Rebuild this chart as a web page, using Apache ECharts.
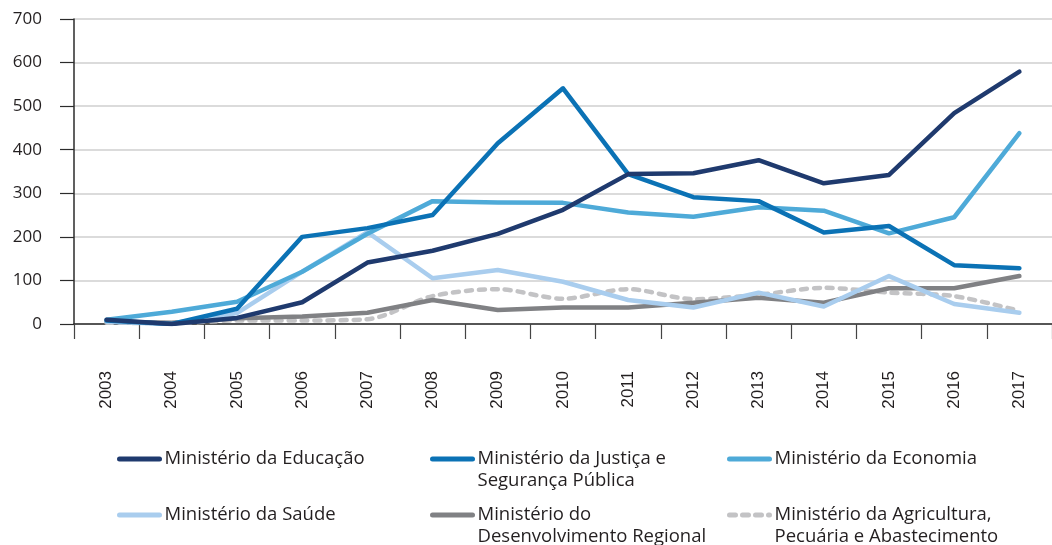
<!DOCTYPE html>
<html>
<head>
    <meta charset="utf-8">
    <title>Ministérios</title>
    <script src="https://cdn.jsdelivr.net/npm/echarts@6/dist/echarts.min.js"></script>
    <style>
        html, body { margin: 0; padding: 0; background: #fff; }
        #chart { width: 1052px; height: 545px; }
    </style>
</head>
<body>
<div id="chart"></div>
<script>
    // anos
    var anos = ['2003', '2004', '2005', '2006', '2007', '2008', '2009', '2010',
        '2011', '2012', '2013', '2014', '2015', '2016', '2017'];
    var yTicks = [0, 100, 200, 300, 400, 500, 600, 700];

    var educacao = [10, 0, 14, 50, 141, 168, 207, 262, 344, 346, 376, 323, 342, 484, 579];
    var justica = [8, 0, 35, 200, 220, 250, 415, 541, 344, 291, 282, 210, 225, 135, 128];
    var economia = [10, 28, 51, 120, 207, 282, 279, 278, 256, 246, 268, 260, 208, 245, 438];
    var saude = [5, 0, 25, 120, 211, 105, 124, 97, 55, 38, 72, 40, 110, 46, 26];
    var desenvolvimento = [5, 3, 13, 17, 26, 55, 32, 38, 38, 49, 60, 49, 82, 82, 110];
    var agricultura = [3, 2, 8, 8, 11, 64, 80, 58, 80, 57, 67, 83, 72, 64, 30];

    var nomes = {
        edu: 'Ministério da Educação',
        jus: 'Ministério da Justiça e Segurança Pública',
        eco: 'Ministério da Economia',
        sau: 'Ministério da Saúde',
        des: 'Ministério do Desenvolvimento Regional',
        agr: 'Ministério da Agricultura, Pecuária e Abastecimento'
    };
    // texto da legenda (quebra de linha como no original)
    var rotulos = {};
    rotulos[nomes.edu] = 'Ministério da Educação';
    rotulos[nomes.jus] = '\nMinistério da Justiça e\nSegurança Pública';
    rotulos[nomes.eco] = 'Ministério da Economia';
    rotulos[nomes.sau] = 'Ministério da Saúde';
    rotulos[nomes.des] = '\nMinistério do\nDesenvolvimento Regional';
    rotulos[nomes.agr] = '\nMinistério da Agricultura,\nPecuária e Abastecimento';

    var cores = {
        edu: '#1f3a6e',
        jus: '#0b72b5',
        eco: '#4eaad8',
        sau: '#a9cdee',
        des: '#808184',
        agr: '#c3c3c5'
    };

    var chart = echarts.init(document.getElementById('chart'));

    function serie(key, dados, extra) {
        var s = {
            name: nomes[key],
            type: 'line',
            data: dados,
            symbol: 'none',
            color: cores[key],
            lineStyle: { width: 4.5, color: cores[key], cap: 'round', join: 'round' },
            animation: false
        };
        for (var k in extra) s[k] = extra[k];
        return s;
    }

    function legenda(key, left, top) {
        return {
            data: [nomes[key]],
            left: left,
            top: top,
            padding: 0,
            itemWidth: 40,
            itemHeight: 14,
            itemGap: 0,
            selectedMode: false,
            formatter: function (name) { return rotulos[name]; },
            itemStyle: { opacity: 0 },
            lineStyle: { width: 5, cap: 'round' },
            textStyle: {
                fontFamily: 'Open Sans',
                fontSize: 18.5,
                lineHeight: 22,
                color: '#231f20'
            }
        };
    }

    var option = {
        backgroundColor: '#fff',
        animation: false,
        grid: { left: 74, top: 19, right: -6, bottom: 221 },
        legend: [
            legenda('edu', 117, 448),
            legenda('jus', 430, 426),
            legenda('eco', 727, 448),
            legenda('sau', 117, 504),
            legenda('des', 430, 482),
            legenda('agr', 727, 482)
        ],
        xAxis: {
            type: 'category',
            data: anos,
            boundaryGap: true,
            axisLine: { lineStyle: { color: '#2b2b2b', width: 1.5 } },
            axisTick: { show: true, length: 15, interval: 0, lineStyle: { color: '#444', width: 1.2 } },
            axisLabel: {
                rotate: 90,
                interval: 0,
                margin: 47,
                fontFamily: 'Liberation Sans',
                fontSize: 17,
                color: '#231f20'
            },
            splitLine: { show: false }
        },
        yAxis: {
            type: 'value',
            min: yTicks[0],
            max: yTicks[yTicks.length - 1],
            interval: 100,
            axisLine: { show: true, lineStyle: { color: '#2b2b2b', width: 1.5 } },
            axisTick: { show: true, inside: false, length: 14, lineStyle: { color: '#2b2b2b', width: 1.2 } },
            axisLabel: {
                margin: 32,
                fontFamily: 'Open Sans',
                fontSize: 17,
                color: '#231f20'
            },
            splitLine: { lineStyle: { color: '#cfcfcf', width: 1.5 } }
        },
        series: [
            serie('agr', agricultura, {
                smooth: 0.3,
                lineStyle: { width: 4.5, color: cores.agr, type: [6, 7], cap: 'round' }
            }),
            serie('des', desenvolvimento, {}),
            serie('sau', saude, {}),
            serie('eco', economia, {}),
            serie('jus', justica, {}),
            serie('edu', educacao, {})
        ]
    };

    chart.setOption(option);
</script>
</body>
</html>
